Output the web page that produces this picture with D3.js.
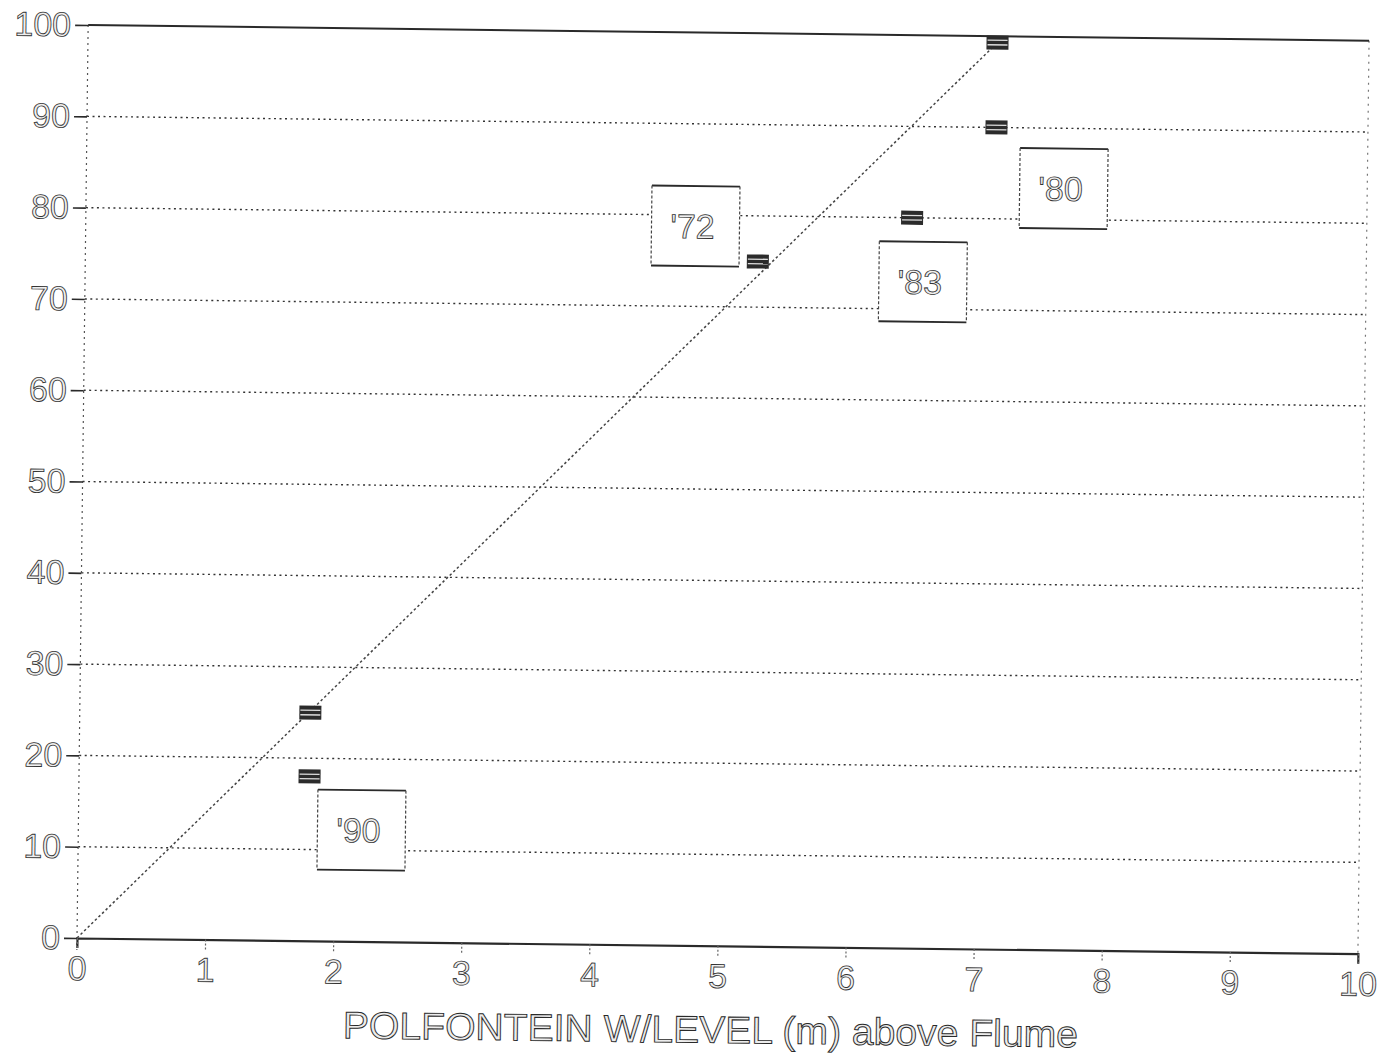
<!DOCTYPE html>
<html>
<head>
<meta charset="utf-8">
<script src="https://cdn.jsdelivr.net/npm/d3@7"></script>
<style>
  html, body { margin: 0; padding: 0; background: #fff; }
  svg { display: block; }
</style>
</head>
<body>
<svg id="chart" width="1396" height="1056"></svg>
<script>
// Observed points: water level (m) vs. percentage
const levelX = [1.8, 1.8, 5.25, 6.45, 7.1, 7.1];
const valueY = [25, 18, 75, 80, 90, 99.3];

// Straight line from the origin to the top observation
const fitX = [0, 7.1];
const fitY = [0, 99.3];

// Year annotations (anchor in data units)
const yearLabels = ["'90", "'72", "'83", "'80"];
const yearX = [2.21, 4.76, 6.54, 7.63];
const yearY = [12.2, 78.8, 73.0, 83.4];

const xTicks = [0, 1, 2, 3, 4, 5, 6, 7, 8, 9, 10];
const yTicks = [0, 10, 20, 30, 40, 50, 60, 70, 80, 90, 100];
const xTitle = "POLFONTEIN W/LEVEL (m) above Flume";

const mLeft = 77, mTop = 25, W = 1281, H = 913;
const tilt = 0.7;

const svg = d3.select("#chart");
const root = svg.append("g")
  .attr("transform", `rotate(${tilt},${mLeft},${mTop + H})`)
  .append("g")
  .attr("transform", `translate(${mLeft},${mTop})`);

const x = d3.scaleLinear().domain([0, 10]).range([0, W]);
const y = d3.scaleLinear().domain([0, 100]).range([H, 0]);

const ink = "#2a2a2a";
const font = "'Liberation Sans', Arial, sans-serif";

// dotted horizontal grid
root.append("g").selectAll("line")
  .data(yTicks.filter(d => d > 0 && d < 100))
  .join("line")
  .attr("x1", 0).attr("x2", W)
  .attr("y1", d => y(d)).attr("y2", d => y(d))
  .attr("stroke", "#333").attr("stroke-width", 1.4)
  .attr("stroke-dasharray", "2,3.5");

// left and right dotted verticals
root.append("line").attr("x1", 0).attr("x2", 0).attr("y1", 0).attr("y2", H + 12)
  .attr("stroke", "#555").attr("stroke-width", 1.2).attr("stroke-dasharray", "2,4");
root.append("line").attr("x1", W).attr("x2", W).attr("y1", 0).attr("y2", H)
  .attr("stroke", "#777").attr("stroke-width", 1.2).attr("stroke-dasharray", "2,5");

// top frame line
root.append("line").attr("x1", 0).attr("x2", W).attr("y1", 0).attr("y2", 0)
  .attr("stroke", ink).attr("stroke-width", 2);

// y axis ticks + labels
const yAxis = d3.axisLeft(y).tickValues(yTicks).tickSize(13).tickPadding(4);
const gy = root.append("g").call(yAxis);
gy.select(".domain").remove();
gy.selectAll(".tick line").attr("stroke", ink).attr("stroke-width", 1.6);
gy.selectAll(".tick text")
  .attr("font-family", font).attr("font-size", 34)
  .attr("fill", "#efefef").attr("stroke", "#333").attr("stroke-width", 0.85);

// x axis (solid baseline, short dotted ticks)
const xAxis = d3.axisBottom(x).tickValues(xTicks).tickSize(10).tickPadding(8);
const gx = root.append("g").attr("transform", `translate(0,${H})`).call(xAxis);
gx.select(".domain").attr("stroke", ink).attr("stroke-width", 2.2);
gx.selectAll(".tick line").attr("stroke", "#666").attr("stroke-width", 1.2)
  .attr("stroke-dasharray", "2,2");
gx.selectAll(".tick text")
  .attr("font-family", font).attr("font-size", 34)
  .attr("fill", "#efefef").attr("stroke", "#333").attr("stroke-width", 0.85);

// fitted line
root.append("path")
  .datum(fitX.map((d, i) => [d, fitY[i]]))
  .attr("d", d3.line().x(d => x(d[0])).y(d => y(d[1])))
  .attr("fill", "none").attr("stroke", "#444").attr("stroke-width", 1.5)
  .attr("stroke-dasharray", "2.5,2.5");

// labelled boxes
const boxW = 88, boxH = 80;
const boxes = root.append("g").selectAll("g")
  .data(yearLabels.map((t, i) => ({ t, x: yearX[i], y: yearY[i] })))
  .join("g")
  .attr("transform", d => `translate(${x(d.x)},${y(d.y)})`);
boxes.append("rect")
  .attr("x", -boxW / 2).attr("y", -boxH / 2)
  .attr("width", boxW).attr("height", boxH)
  .attr("fill", "#fff").attr("stroke", "none");
boxes.append("line").attr("x1", -boxW / 2).attr("x2", boxW / 2)
  .attr("y1", -boxH / 2).attr("y2", -boxH / 2).attr("stroke", ink).attr("stroke-width", 1.8);
boxes.append("line").attr("x1", -boxW / 2).attr("x2", boxW / 2)
  .attr("y1", boxH / 2).attr("y2", boxH / 2).attr("stroke", ink).attr("stroke-width", 1.8);
boxes.selectAll("line.side")
  .data([-boxW / 2, boxW / 2])
  .join("line").attr("class", "side")
  .attr("x1", d => d).attr("x2", d => d)
  .attr("y1", -boxH / 2).attr("y2", boxH / 2)
  .attr("stroke", "#444").attr("stroke-width", 1.2).attr("stroke-dasharray", "3,2");
boxes.append("text")
  .attr("x", -3).attr("y", 0).attr("dy", "0.36em")
  .attr("text-anchor", "middle")
  .attr("font-family", font).attr("font-size", 34)
  .attr("fill", "#efefef").attr("stroke", "#333").attr("stroke-width", 0.85)
  .text(d => d.t);

// observation markers (striped blocks)
const marks = root.append("g").selectAll("g")
  .data(levelX.map((d, i) => [d, valueY[i]]))
  .join("g")
  .attr("transform", d => `translate(${x(d[0])},${y(d[1])})`);
marks.append("rect").attr("x", -11).attr("y", -7).attr("width", 22).attr("height", 14)
  .attr("fill", "#2b2b2b");
marks.selectAll("line")
  .data([-2.3, 2.3])
  .join("line")
  .attr("x1", -10).attr("x2", 10)
  .attr("y1", d => d).attr("y2", d => d)
  .attr("stroke", "#ddd").attr("stroke-width", 1.3);

// axis title
root.append("text")
  .attr("x", W / 2 - 6).attr("y", H + 97)
  .attr("text-anchor", "middle")
  .attr("font-family", font).attr("font-size", 38)
  .attr("textLength", 735).attr("lengthAdjust", "spacingAndGlyphs")
  .attr("fill", "#ececec").attr("stroke", "#2a2a2a").attr("stroke-width", 0.95)
  .text(xTitle);
</script>
</body>
</html>
